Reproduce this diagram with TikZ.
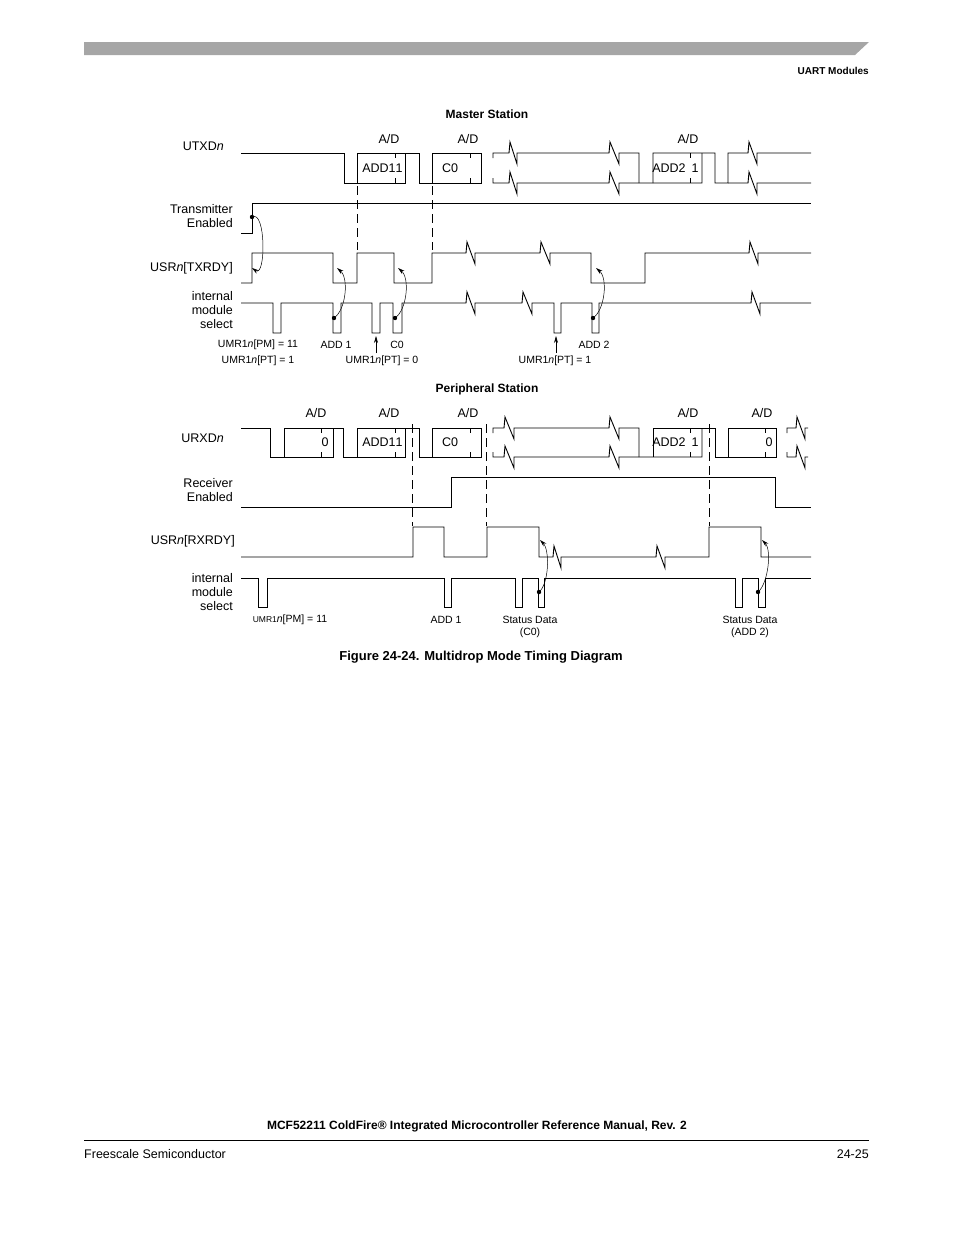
\documentclass[tikz,border=0pt]{standalone}
\usepackage{fontspec}
\setmainfont{Liberation Sans}
\usetikzlibrary{arrows.meta,calc}
\begin{document}
\begin{tikzpicture}[x=1pt,y=-1pt,
  sig/.style={line width=0.9pt},
  tk/.style={line width=0.6pt},
  dsh/.style={line width=0.8pt,dash pattern=on 9pt off 5pt},
  cur/.style={line width=0.5pt,-{Stealth[length=7pt,width=4pt]}},
  lab/.style={font=\fontsize{12.5}{14}\selectfont,inner sep=0pt},
  llab/.style={lab,anchor=east,align=right},
  sm/.style={font=\fontsize{10.5}{12.5}\selectfont,inner sep=0pt},
  ttl/.style={font=\bfseries\fontsize{12}{14}\selectfont,inner sep=0pt}]
\useasboundingbox (0,0) rectangle (954,1235);
\def\Z#1#2#3{-- (#1,#3) -- (#1+1,#3-11) -- (#2,#3+11) -- (#2,#3)}
% header
\fill[gray!70] (84,42) -- (869,42) -- (855,55) -- (84,55) -- cycle;
\node[ttl,anchor=east,font=\bfseries\fontsize{10}{12}\selectfont] (hdr) at (869,71) {UART Modules};
% ===== Master =====
\node[ttl] (ms) at (487,114) {Master Station};
\foreach \x/\n in {389/a1,468/a2,688/a3}{\node[lab] (\n) at (\x,139) {A/D};}
\node[llab] (l1) at (224,146) {UTXD\textit{n}};
\node[llab] (l2) at (233,216) {Transmitter\\Enabled};
\node[llab] (l3) at (233,268) {USR\textit{n}[TXRDY]};
\node[llab] (l4) at (233,310) {internal\\module\\select};
% UTXD
\draw[sig] (241,153) -- (344,153) -- (344,183) -- (405,183) -- (405,153);
\draw[sig] (357,183) -- (357,153) -- (419,153) -- (419,183) -- (432,183) -- (432,153) -- (481,153) -- (481,183) -- (432,183);
\draw[sig] (493,158) -- (493,153) \Z{509}{517}{153} \Z{609}{619}{153} -- (639,153) -- (639,183);
\draw[sig] (493,178) -- (493,183) \Z{509}{517}{183} \Z{609}{619}{183} -- (702,183) -- (702,153);
\draw[sig] (653,183) -- (653,153) -- (715,153) -- (715,183) -- (728,183) -- (728,153) \Z{748}{757}{153} -- (811,153);
\draw[sig] (728,183) \Z{748}{757}{183} -- (811,183);
\foreach \x in {395,470,690}{\draw[tk] (\x,153)--(\x,158) (\x,178)--(\x,183);}
\node[lab] (t1) at (379,168) {ADD1};
\node[lab] (t2) at (399,168) {1};
\node[lab] (t3) at (450,168) {C0};
\node[lab] (t4) at (669,168) {ADD2};
\node[lab] (t5) at (695,168) {1};
\draw[dsh] (357,186) -- (357,250);
\draw[dsh] (432,186) -- (432,250);
% Transmitter enabled
\draw[sig] (241,233) -- (252,233) -- (252,203) -- (811,203);
% TXRDY
\draw[sig] (241,283) -- (252,283) -- (252,253) -- (333,253) -- (333,283) -- (357,283) -- (357,253) -- (394,253) -- (394,283) -- (432,283) -- (432,253) \Z{466}{475}{253} \Z{540}{550}{253} -- (591,253) -- (591,283) -- (645,283) -- (645,253) \Z{749}{758}{253} -- (811,253);
% select
\draw[sig] (241,303) -- (273,303) -- (273,333) -- (281,333) -- (281,303) -- (333,303) -- (333,333) -- (341,333) -- (341,303) -- (372,303) -- (372,333) -- (380,333) -- (380,303) -- (393,303) -- (393,333) -- (402,333) -- (402,303) \Z{466}{475}{303} \Z{522}{532}{303} -- (554,303) -- (554,333) -- (561,333) -- (561,303) -- (592,303) -- (592,333) -- (599,333) -- (599,303) \Z{751}{760}{303} -- (811,303);
% curved arrows
\coordinate (d0) at (252,217); \coordinate (h0) at (252,268);
\coordinate (d1) at (334,318); \coordinate (h1) at (337,268);
\coordinate (d2) at (395,318); \coordinate (h2) at (398,268);
\coordinate (d3) at (593,318); \coordinate (h3) at (596,268);
\foreach \d/\h/\b in {d0/h0/14,d1/h1/12,d2/h2/12,d3/h3/12}{
  \fill (\d) circle (2.2);
  \draw[cur] (\d) .. controls ($(\d)+(\b,-8)$) and ($(\h)+(\b,10)$) .. (\h);}
% labels
\node[sm] (u1) at (258,345) {UMR1\textit{n}[PM] = 11};
\node[sm] (u2) at (258,361) {UMR1\textit{n}[PT] = 1};
\node[sm] (u3) at (336,345) {ADD 1};
\node[sm] (u4) at (397,345) {C0};
\node[sm] (u5) at (382,361) {UMR1\textit{n}[PT] = 0};
\node[sm] (u6) at (594,345) {ADD 2};
\node[sm] (u7) at (555,361) {UMR1\textit{n}[PT] = 1};
\coordinate (p1) at (376,353); \coordinate (q1) at (376,336);
\coordinate (p2) at (556,353); \coordinate (q2) at (556,336);
\draw[tk,-{Stealth[length=7pt,width=4pt]}] (p1) -- (q1);
\draw[tk,-{Stealth[length=7pt,width=4pt]}] (p2) -- (q2);
% ===== Peripheral =====
\node[ttl] (ps) at (487,389) {Peripheral Station};
\foreach \x/\n in {316/b1,389/b2,468/b3,688/b4,762/b5}{\node[lab] (\n) at (\x,413) {A/D};}
\node[llab] (m1) at (224,438) {URXD\textit{n}};
\node[llab] (m2) at (233,490) {Receiver\\Enabled};
\node[llab] (m3) at (235,541) {USR\textit{n}[RXRDY]};
\node[llab] (m4) at (233,592) {internal\\module\\select};
% URXD
\draw[sig] (241,428) -- (270,428) -- (270,457) -- (333,457) -- (333,428);
\draw[sig] (284,457) -- (284,428) -- (343,428) -- (343,457) -- (405,457) -- (405,428);
\draw[sig] (357,457) -- (357,428) -- (419,428) -- (419,457) -- (432,457) -- (432,428) -- (481,428) -- (481,457) -- (432,457);
\draw[sig] (493,433) -- (493,428) \Z{504}{514}{428} \Z{609}{619}{428} -- (639,428) -- (639,457);
\draw[sig] (493,452) -- (493,457) \Z{504}{514}{457} \Z{609}{619}{457} -- (702,457) -- (702,428);
\draw[sig] (653,457) -- (653,428) -- (715,428) -- (715,457) -- (776,457) -- (776,428);
\draw[sig] (728,457) -- (728,428) -- (776,428);
\draw[sig] (787,433) -- (787,428) \Z{796}{805}{428} -- (808,428);
\draw[sig] (787,452) -- (787,457) \Z{796}{805}{457} -- (808,457);
\foreach \x in {321,395,470,690,765}{\draw[tk] (\x,428)--(\x,433) (\x,452)--(\x,457);}
\node[lab] (s1) at (325,442) {0};
\node[lab] (s2) at (379,442) {ADD1};
\node[lab] (s3) at (399,442) {1};
\node[lab] (s4) at (450,442) {C0};
\node[lab] (s5) at (669,442) {ADD2};
\node[lab] (s6) at (695,442) {1};
\node[lab] (s7) at (769,442) {0};
\draw[dsh] (412,424) -- (412,526);
\draw[dsh] (486,424) -- (486,526);
\draw[dsh] (709,424) -- (709,526);
% Receiver enabled
\draw[sig] (241,507) -- (451,507) -- (451,477) -- (775,477) -- (775,507) -- (811,507);
% RXRDY
\draw[sig] (241,557) -- (413,557) -- (413,527) -- (444,527) -- (444,557) -- (487,557) -- (487,527) -- (539,527) -- (539,557) \Z{553}{561}{557} \Z{656}{665}{557} -- (709,557) -- (709,527) -- (761,527) -- (761,557) -- (811,557);
% select
\draw[sig] (241,578) -- (258,578) -- (258,607) -- (267,607) -- (267,578) -- (444,578) -- (444,607) -- (451,607) -- (451,578) -- (515,578) -- (515,607) -- (522,607) -- (522,578) -- (538,578) -- (538,607) -- (544,607) -- (544,578) -- (735,578) -- (735,607) -- (742,607) -- (742,578) -- (758,578) -- (758,607) -- (765,607) -- (765,578) -- (811,578);
\coordinate (e1) at (539,592); \coordinate (k1) at (540,540);
\coordinate (e2) at (758,592); \coordinate (k2) at (762,540);
\foreach \d/\h in {e1/k1,e2/k2}{
  \fill (\d) circle (2.2);
  \draw[cur] (\d) .. controls ($(\d)+(10,-8)$) and ($(\h)+(10,10)$) .. (\h);}
\node[sm] (v1) at (290,620) {{\fontsize{8.5}{10}\selectfont UMR1}\textit{n}[PM] = 11};
\node[sm] (v2) at (446,620) {ADD 1};
\node[sm,align=center] (v3) at (530,627) {Status Data\\(C0)};
\node[sm,align=center] (v4) at (750,627) {Status Data\\(ADD 2)};
% caption & footer
\node[ttl,font=\bfseries\fontsize{13}{15}\selectfont] (cap) at (481,657) {Figure 24-24. Multidrop Mode Timing Diagram};
\node[ttl] (ft) at (477,1126) {MCF52211 ColdFire® Integrated Microcontroller Reference Manual, Rev. 2};
\draw[line width=0.6pt] (84,1140) -- (869,1140);
\node[lab,anchor=west] (f1) at (84,1154) {Freescale Semiconductor};
\node[lab,anchor=east] (f2) at (869,1154) {24-25};
\end{tikzpicture}
\end{document}
